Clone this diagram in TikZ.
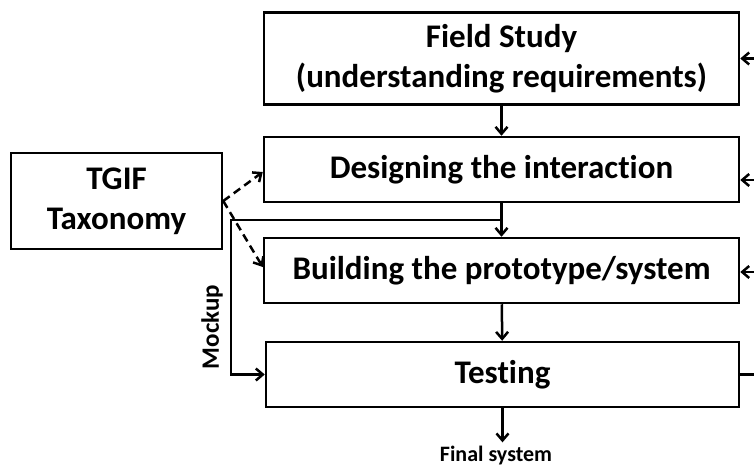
\documentclass[tikz,border=0pt]{standalone}
\usepackage{fontspec}
\setmainfont{Carlito}[Ligatures=NoCommon]
\usetikzlibrary{arrows.meta,calc}
\tikzset{
  box/.style={draw, line width=2.5pt, minimum height=65pt, align=center, inner sep=0pt,
    font=\fontsize{33}{40}\selectfont\bfseries},
  flow/.style={line width=2.5pt, -{Straight Barb[length=7pt,width=12pt,line width=2.5pt]}},
  link/.style={flow, dash pattern=on 8pt off 5pt},
  small/.style={font=\fontsize{22}{26}\selectfont\bfseries, inner sep=0pt}
}
\begin{document}
\begin{tikzpicture}[x=1pt,y=-1pt]
  \useasboundingbox (0,0) rectangle (754,468);
  \node[box, minimum width=475pt, minimum height=92pt] (field) at (501.5,58.5) {Field Study\\(understanding requirements)};
  \node[box, minimum width=475pt] (design) at (501.5,169.5) {Designing the interaction};
  \node[box, minimum width=475pt] (build) at (501.5,270.5) {Building the prototype/system};
  \node[box, minimum width=473pt] (test) at (502.5,374.5) {Testing};
  \node[box, minimum width=211pt, minimum height=96pt] (tgif) at (116.5,201) {TGIF\\Taxonomy};
  \node[small] (final) at (496,456) {Final system};
  \node[small, font=\fontsize{25}{30}\selectfont\bfseries, rotate=90] (mockup) at (212,327) {Mockup};
  % main flow
  \draw[flow] (field) -- (design);
  \draw[flow] (design) -- (build);
  \draw[flow] (build) -- (test);
  \draw[flow] (test.south) -- ([yshift=4pt]test.south |- final.north);
  % taxonomy links
  \draw[link] (tgif.east) -- ([yshift=-2.5pt]design.west);
  \draw[link] (tgif.east) -- ([yshift=3.5pt]build.west);
  \coordinate (mid) at ($(design.south)!0.5!(build.north)$);
  \coordinate (bend) at (231,0);
  \draw[flow] (mid) -- (mid -| bend) |- (test.west);
  % feedback from the right
  \coordinate (fR) at (754,58.5);
  \coordinate (dR) at (754,180);
  \coordinate (bR) at (754,272);
  \coordinate (tR) at (754,374.5);
  \draw[flow] (fR) -- (fR -| field.east);
  \draw[flow] (dR) -- (dR -| design.east);
  \draw[flow] (bR) -- (bR -| build.east);
  \draw[line width=2.5pt] (test.east) -- (tR);
\end{tikzpicture}
\end{document}
